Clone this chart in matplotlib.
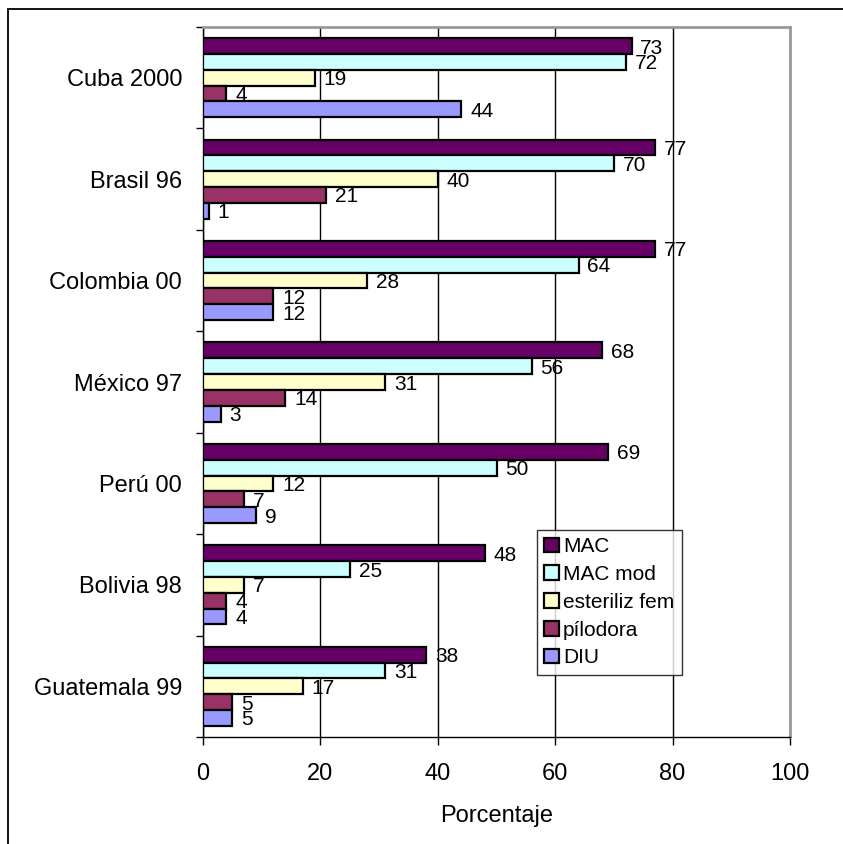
import numpy as np
import matplotlib.pyplot as plt
from matplotlib.patches import Rectangle

plt.rcParams['font.family'] = ['Liberation Sans', 'DejaVu Sans']

paises = ['Cuba 2000', 'Brasil 96', 'Colombia 00', 'México 97',
          'Perú 00', 'Bolivia 98', 'Guatemala 99']
series = ['MAC', 'MAC mod', 'esteriliz fem', 'pílodora', 'DIU']
mac = [73, 77, 77, 68, 69, 48, 38]
mac_mod = [72, 70, 64, 56, 50, 25, 31]
esteriliz = [19, 40, 28, 31, 12, 7, 17]
pilodora = [4, 21, 12, 14, 7, 4, 5]
diu = [44, 1, 12, 3, 9, 4, 5]
colores = ['#660066', '#CCFFFF', '#FFFFCC', '#993366', '#9999FF']

valores = [mac, mac_mod, esteriliz, pilodora, diu]

fig = plt.figure(figsize=(8.43, 8.44), dpi=100)
ax = fig.add_axes([203 / 843, 1 - 737 / 844, 587 / 843, 710 / 844])

# marco exterior del grafico
fig.patches.append(Rectangle((8 / 843, -0.1), 1.2, 1 - 9 / 844 + 0.1,
                             transform=fig.transFigure, fill=False,
                             edgecolor='black', linewidth=1.3))

y = np.arange(len(paises))
alto = 0.156
for k, (nombre, vals, c) in enumerate(zip(series, valores, colores)):
    pos = y + (k - 2) * alto
    ax.barh(pos, vals, height=alto, color=c, edgecolor='black',
            linewidth=1.6, label=nombre, zorder=3)
    for p, v in zip(pos, vals):
        ax.text(v + 1.5, p + 0.02, str(v), va='center', ha='left',
                fontsize=15, zorder=4)

ax.set_ylim(len(paises) - 0.5, -0.5)
ax.set_xlim(0, 100)
ax.set_xticks(np.arange(0, 101, 20))
ax.set_yticks(y)
ax.set_yticklabels(paises)
ax.set_yticks(np.arange(-0.5, len(paises), 1), minor=True)
ax.tick_params(axis='y', which='major', length=0, pad=15, labelsize=17)
ax.tick_params(axis='y', which='minor', length=5, width=1, direction='out')
ax.tick_params(axis='x', length=6, width=1, direction='out', pad=13,
               labelsize=17)
ax.grid(axis='x', color='black', linewidth=1, zorder=0)
ax.set_axisbelow(True)

for lado in ['top', 'right']:
    ax.spines[lado].set_color('#999999')
    ax.spines[lado].set_linewidth(2)
for lado in ['left', 'bottom']:
    ax.spines[lado].set_color('black')
    ax.spines[lado].set_linewidth(1)

ax.set_xlabel('Porcentaje', fontsize=17, labelpad=14)

leg = ax.legend(loc='upper left', bbox_to_anchor=(0.569, 0.2915),
                fontsize=15, frameon=True, fancybox=False,
                handlelength=0.7, handleheight=0.7, handletextpad=0.2,
                labelspacing=0.42, borderpad=0.35, borderaxespad=0)
leg.get_frame().set_edgecolor('black')
leg.get_frame().set_linewidth(1)
leg.set_zorder(5)

fig.savefig('out.png', dpi=100)
